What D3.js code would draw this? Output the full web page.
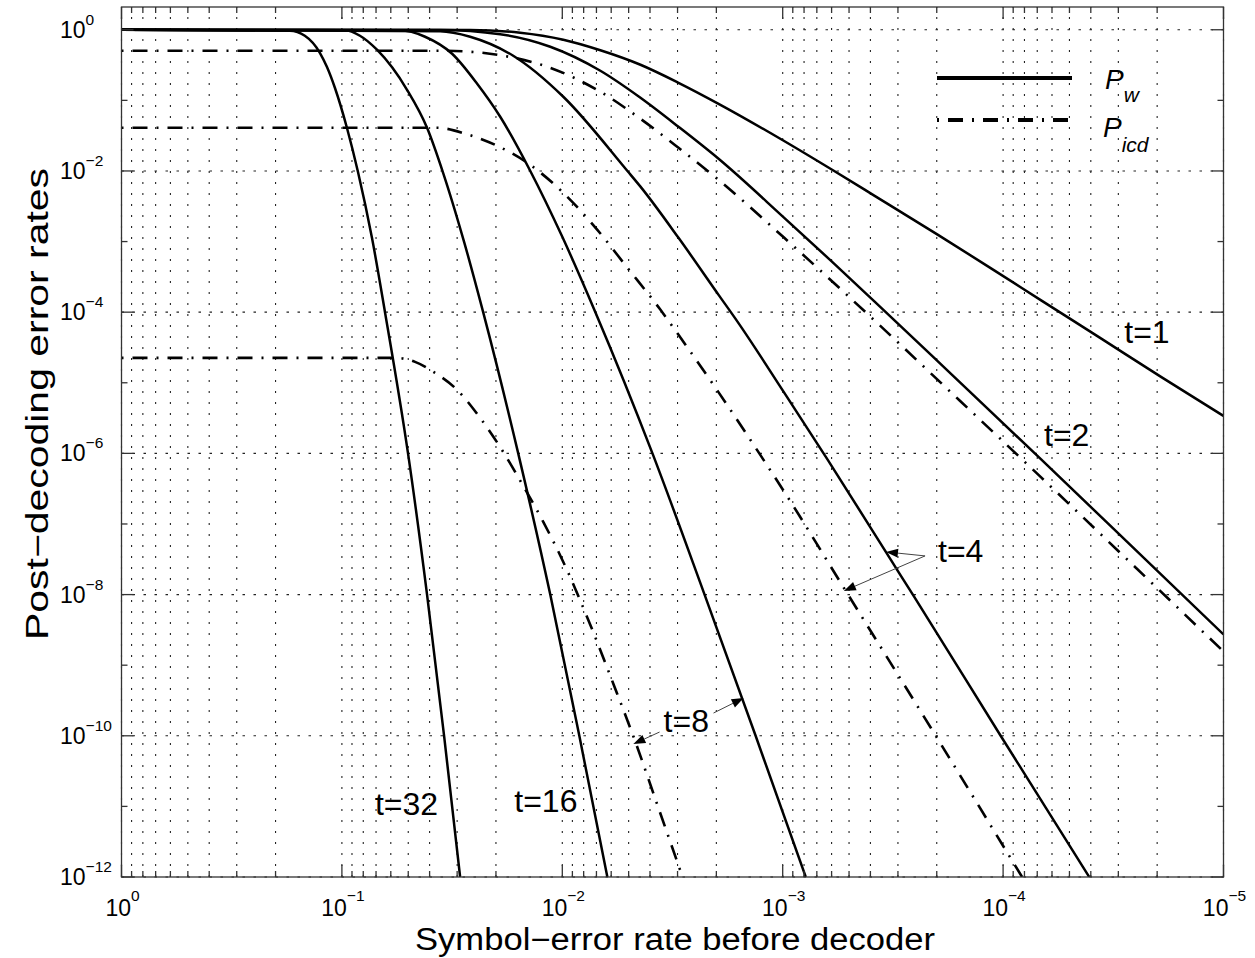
<!DOCTYPE html>
<html><head><meta charset="utf-8">
<script src="https://cdn.jsdelivr.net/npm/d3@7"></script>
<style>
html,body{margin:0;padding:0;background:#fff;}
svg text{font-family:"Liberation Sans", Arial, Helvetica, sans-serif; fill:#000;}
</style></head>
<body><svg id="chart" width="1255" height="958"></svg>
<script>
// ---------------- data ----------------
const xDomain = [1, 1e-5];
const yDomain = [1e-12, 2.1];
const xTickValues = [1, 1e-1, 1e-2, 1e-3, 1e-4, 1e-5];
const xTickExponents = ["0", "\u22121", "\u22122", "\u22123", "\u22124", "\u22125"];
const yTickValues = [1, 1e-2, 1e-4, 1e-6, 1e-8, 1e-10, 1e-12];
const yTickExponents = ["0", "\u22122", "\u22124", "\u22126", "\u22128", "\u221210", "\u221212"];
const yMinorTickValues = [1e-1, 1e-3, 1e-5, 1e-7, 1e-9, 1e-11];

// P_w (solid lines)
const pwT1X = [1, 0.02619, 0.01552, 0.009896, 0.00672, 0.004419, 0.00297, 0.001954, 0.0009896, 0.0005863, 0.0003859, 0.0001974, 0.0001134, 0.0000672, 0.00003585, 0.00001913, 0.00001];
const pwT1Y = [1, 0.99, 0.907, 0.722, 0.5124, 0.3193, 0.1774, 0.0894, 0.02675, 0.01005, 0.004519, 0.001246, 0.0004178, 0.0001471, 4.215e-5, 1.204e-5, 3.396e-6];

const pwT2X = [1, 0.03584, 0.01913, 0.01134, 0.00672, 0.004419, 0.00297, 0.001954, 0.0009896, 0.0005863, 0.0003859, 0.0001723, 0.0000672, 0.00002619, 0.00001];
const pwT2Y = [1, 0.99, 0.8634, 0.5741, 0.2625, 0.1088, 0.04223, 0.01487, 0.002205, 0.0004915, 0.0001447, 1.337e-5, 8.22e-7, 4.89e-8, 2.724e-9];

const pwT4X = [1, 0.03584, 0.02619, 0.0167, 0.009896, 0.005064, 0.004419, 0.00297, 0.001954, 0.001601, 0.0009896, 0.0006245, 0.0003229, 0.0002538, 0.0001021, 0.00004064];
const pwT4Y = [1, 0.9523, 0.796, 0.4282, 0.1124, 0.01, 0.006, 0.00113, 0.0001759, 7.29e-5, 7.43e-6, 8.09e-7, 3.096e-8, 9.41e-9, 9.77e-11, 1e-12];

const pwT8X = [1, 0.0545, 0.04195, 0.03162, 0.02434, 0.01913, 0.01397, 0.01, 0.007079, 0.003899, 0.002262, 0.001327, 0.000786];
const pwT8Y = [1, 0.9838, 0.796, 0.457, 0.1717, 0.05854, 0.01, 0.001167, 1e-4, 1e-6, 1e-8, 1e-10, 1e-12];

const pwT16X = [1, 0.09691, 0.08284, 0.06933, 0.05064, 0.04108, 0.03474, 0.0279, 0.02286, 0.01585, 0.01134, 0.008371, 0.006245];
const pwT16Y = [1, 0.98, 0.822, 0.521, 0.1412, 0.0409, 0.00942, 0.000991, 1e-4, 1e-6, 1e-8, 1e-10, 1e-12];

const pwT32X = [1, 0.1723, 0.1473, 0.1259, 0.117, 0.1076, 0.0949, 0.08457, 0.07305, 0.06375, 0.05012, 0.04108, 0.03438, 0.02908];
const pwT32Y = [1, 0.968, 0.822, 0.4722, 0.299, 0.1508, 0.0409, 0.00973, 0.00113, 1e-4, 1e-6, 1e-8, 1e-10, 1e-12];

// P_icd (dash-dot lines)
const picdT2X = [1, 0.03584, 0.02619, 0.01913, 0.01134, 0.00672, 0.004419, 0.00297, 0.001954, 0.0009896, 0.0003859, 0.0001723, 0.0000672, 0.00002619, 0.00001];
const picdT2Y = [0.504, 0.504, 0.4879, 0.4353, 0.2894, 0.1323, 0.05483, 0.02129, 0.00749, 0.001148, 7.783e-5, 7.31e-6, 4.566e-7, 2.761e-8, 1.564e-9];

const picdT4X = [1, 0.037, 0.02702, 0.01974, 0.01442, 0.009896, 0.006934, 0.005064, 0.003585, 0.00297, 0.001974, 0.001299, 0.0009196, 0.000545, 0.0002125, 0.000082];
const picdT4Y = [0.0409, 0.0409, 0.03307, 0.02272, 0.01305, 0.0049, 0.001466, 0.0004245, 0.0001079, 4.772e-5, 7.68e-6, 1.084e-6, 2.055e-7, 1.461e-8, 1.29e-10, 1e-12];

const picdT8X = [1, 0.05741, 0.04658, 0.03779, 0.03001, 0.02359, 0.01854, 0.01504, 0.0122, 0.009896, 0.00746, 0.005863, 0.004658, 0.003661, 0.002848];
const picdT8Y = [2.253e-5, 2.253e-5, 1.977e-5, 1.381e-5, 7.93e-6, 3.182e-6, 1.049e-6, 3.46e-7, 1.07e-7, 2.9e-8, 3.713e-9, 5.42e-10, 8.17e-11, 9.48e-12, 1e-12];

// annotations (data coordinates)
const annTexts = ["t=1", "t=2", "t=4", "t=8", "t=16", "t=32"];
const annX = [2.82e-5, 6.52e-5, 1.974e-4, 3.47e-3, 0.01652, 0.0708];
const annY = [3.7e-5, 1.28e-6, 2.9e-8, 1.13e-10, 8.3e-12, 7.55e-12];
const arrowFromX = [2.26e-4, 2.26e-4, 2.06e-3, 3.62e-3];
const arrowFromY = [3.53e-8, 3.53e-8, 2.10e-10, 1.13e-10];
const arrowToX = [3.40e-4, 5.28e-4, 1.504e-3, 4.76e-3];
const arrowToY = [4.02e-8, 1.126e-8, 3.43e-10, 7.65e-11];

const legendLabels = [["P", "w"], ["P", "icd"]];
const xAxisTitle = "Symbol\u2212error rate before decoder";
const yAxisTitle = "Post\u2212decoding error rates";

// ---------------- drawing ----------------
const svg = d3.select("#chart");
const plot = {left: 121.5, right: 1223.5, top: 7, bottom: 877};
const x = d3.scaleLog().domain(xDomain).range([plot.left, plot.right]);
const y = d3.scaleLog().domain(yDomain).range([plot.bottom, plot.top]);

svg.append("rect").attr("width", 1255).attr("height", 958).attr("fill", "#fff");
svg.append("defs").append("clipPath").attr("id", "clip").append("rect")
  .attr("x", plot.left).attr("y", plot.top)
  .attr("width", plot.right - plot.left).attr("height", plot.bottom - plot.top);

const isDecade = v => Math.abs(Math.log10(v) - Math.round(Math.log10(v))) < 1e-6;

// grid
const gGrid = svg.append("g");
const xGridVals = x.ticks();
gGrid.selectAll("line.vg").data(xGridVals).join("line")
  .attr("x1", d => x(d)).attr("x2", d => x(d))
  .attr("y1", plot.bottom).attr("y2", plot.top)
  .attr("stroke", "#222").attr("stroke-width", 1.1)
  .attr("stroke-dasharray", "2,9");
gGrid.selectAll("line.hg").data(yTickValues).join("line")
  .attr("x1", plot.left).attr("x2", plot.right)
  .attr("y1", d => y(d)).attr("y2", d => y(d))
  .attr("stroke", "#222").attr("stroke-width", 1.1)
  .attr("stroke-dasharray", "2.5,8.5");

// curves
const gCurves = svg.append("g").attr("clip-path", "url(#clip)");
const line = d3.line().x(d => x(d[0])).y(d => y(d[1])).curve(d3.curveMonotoneX);
const zipPts = (xs, ys) => xs.map((v, i) => [v, ys[i]]);
const solidSeries = [[pwT1X, pwT1Y], [pwT2X, pwT2Y], [pwT4X, pwT4Y], [pwT8X, pwT8Y], [pwT16X, pwT16Y], [pwT32X, pwT32Y]];
const dashSeries = [[picdT2X, picdT2Y], [picdT4X, picdT4Y], [picdT8X, picdT8Y]];
dashSeries.forEach(([xs, ys]) => {
  gCurves.append("path").attr("d", line(zipPts(xs, ys)))
    .attr("fill", "none").attr("stroke", "#000").attr("stroke-width", 2.6)
    .attr("stroke-dasharray", "15,9,2,9").attr("stroke-dashoffset", 24);
});
solidSeries.forEach(([xs, ys]) => {
  gCurves.append("path").attr("d", line(zipPts(xs, ys)))
    .attr("fill", "none").attr("stroke", "#000").attr("stroke-width", 2.5)
    .attr("stroke-linejoin", "round");
});

// axes frame and ticks
const gAx = svg.append("g").attr("stroke", "#333").attr("stroke-width", 1.3);
gAx.append("rect").attr("x", plot.left).attr("y", plot.top)
  .attr("width", plot.right - plot.left).attr("height", plot.bottom - plot.top).attr("fill", "none");
xGridVals.forEach(v => {
  const L = isDecade(v) ? 12 : 6;
  gAx.append("line").attr("x1", x(v)).attr("x2", x(v)).attr("y1", plot.bottom).attr("y2", plot.bottom - L);
  gAx.append("line").attr("x1", x(v)).attr("x2", x(v)).attr("y1", plot.top).attr("y2", plot.top + L);
});
yTickValues.concat(yMinorTickValues).forEach(v => {
  const L = yTickValues.includes(v) ? 12 : 6;
  gAx.append("line").attr("y1", y(v)).attr("y2", y(v)).attr("x1", plot.left).attr("x2", plot.left + L);
  gAx.append("line").attr("y1", y(v)).attr("y2", y(v)).attr("x1", plot.right).attr("x2", plot.right - L);
});

// tick labels
const gLab = svg.append("g");
yTickValues.forEach((v, i) => {
  const t = gLab.append("text").attr("x", 60).attr("y", y(v) + 8).attr("font-size", 23);
  t.append("tspan").text("10");
  t.append("tspan").attr("dy", -13).attr("font-size", 15.5).text(yTickExponents[i]);
});
xTickValues.forEach((v, i) => {
  const t = gLab.append("text").attr("x", x(v) + 1).attr("y", 916).attr("font-size", 23)
    .attr("text-anchor", "middle");
  t.append("tspan").text("10");
  t.append("tspan").attr("dy", -15).attr("font-size", 15.5).text(xTickExponents[i]);
});

// axis titles
gLab.append("text").attr("x", 675).attr("y", 950).attr("font-size", 31)
  .attr("text-anchor", "middle").attr("textLength", 520).attr("lengthAdjust", "spacingAndGlyphs")
  .text(xAxisTitle);
gLab.append("text").attr("transform", "translate(48,404) rotate(-90)").attr("font-size", 31)
  .attr("text-anchor", "middle").attr("textLength", 472).attr("lengthAdjust", "spacingAndGlyphs")
  .text(yAxisTitle);

// legend
const gLeg = svg.append("g");
gLeg.append("line").attr("x1", 937).attr("x2", 1072).attr("y1", 78).attr("y2", 78)
  .attr("stroke", "#000").attr("stroke-width", 4);
gLeg.append("line").attr("x1", 937).attr("x2", 1072).attr("y1", 120).attr("y2", 120)
  .attr("stroke", "#000").attr("stroke-width", 4)
  .attr("stroke-dasharray", "15,9,2,9").attr("stroke-dashoffset", 24);
const legPos = [[1105, 89, 13], [1103, 137, 15]];
legendLabels.forEach((lab, i) => {
  const t = gLeg.append("text").attr("x", legPos[i][0]).attr("y", legPos[i][1])
    .attr("font-size", 28).attr("font-style", "italic");
  t.append("tspan").text(lab[0]);
  t.append("tspan").attr("dy", legPos[i][2]).attr("font-size", 21).text(lab[1]);
});

// annotations
const gAnn = svg.append("g");
annTexts.forEach((s, i) => {
  gAnn.append("text").attr("x", x(annX[i])).attr("y", y(annY[i])).attr("font-size", 32).text(s);
});
arrowFromX.forEach((fx, i) => {
  const x0 = x(fx), y0 = y(arrowFromY[i]), x1 = x(arrowToX[i]), y1 = y(arrowToY[i]);
  const dx = x1 - x0, dy = y1 - y0, L = Math.hypot(dx, dy), ux = dx / L, uy = dy / L;
  const hl = 12, hw = 4.5, bx = x1 - ux * hl, by = y1 - uy * hl;
  gAnn.append("line").attr("x1", x0).attr("y1", y0).attr("x2", bx).attr("y2", by)
    .attr("stroke", "#444").attr("stroke-width", 1);
  gAnn.append("path")
    .attr("d", `M${x1},${y1}L${bx - uy * hw},${by + ux * hw}L${bx + uy * hw},${by - ux * hw}Z`)
    .attr("fill", "#000");
});
</script>
</body></html>
